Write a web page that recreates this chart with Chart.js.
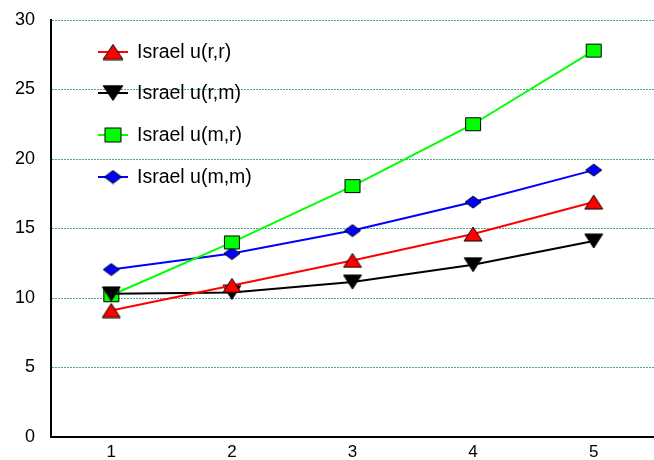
<!DOCTYPE html>
<html><head><meta charset="utf-8">
<script src="https://cdn.jsdelivr.net/npm/chart.js@4"></script>
<style>html,body{margin:0;padding:0;background:#fff}#wrap{width:654px;height:460px}</style>
</head><body><div id="wrap"><canvas id="c" width="654" height="460"></canvas></div>
<script>
const categories = ['1','2','3','4','5'];
const seriesNames = ['Israel u(r,r)','Israel u(r,m)','Israel u(m,r)','Israel u(m,m)'];
const uRR = [9.1, 10.9, 12.7, 14.6, 16.9];
const uRM = [10.3, 10.4, 11.15, 12.4, 14.1];
const uMR = [10.2, 14.0, 18.05, 22.5, 27.8];
const uMM = [12.05, 13.2, 14.85, 16.9, 19.2];
const yTicks = [0,5,10,15,20,25,30];

function makeMarker(kind, fill, w, h){
  const c = document.createElement('canvas');
  c.width = w + 2; c.height = h + 2;
  const x = c.getContext('2d');
  x.fillStyle = fill; x.strokeStyle = '#000'; x.lineWidth = 1;
  x.beginPath();
  const L = 1, T = 1, R = w + 1, B = h + 1, cx = (w + 2) / 2, cy = (h + 2) / 2;
  if (kind === 'up'){ x.moveTo(cx, T); x.lineTo(R, B); x.lineTo(L, B); }
  else if (kind === 'down'){ x.moveTo(L, T); x.lineTo(R, T); x.lineTo(cx, B); }
  else if (kind === 'rect'){ x.rect(L + 0.5, T + 0.5, w - 1, h - 1); }
  else { x.moveTo(cx, T); x.lineTo(R, cy); x.lineTo(cx, B); x.lineTo(L, cy); }
  x.closePath(); x.fill(); x.stroke();
  return c;
}
const mk = [
  makeMarker('up', '#ff0000', 18, 14),
  makeMarker('down', '#000000', 18, 14),
  makeMarker('rect', '#00ff00', 16, 14),
  makeMarker('diamond', '#0000ff', 16, 12)
];
const legendMk = [
  makeMarker('up', '#ff0000', 20, 15),
  makeMarker('down', '#000000', 20, 15),
  makeMarker('rect', '#00ff00', 17, 15),
  makeMarker('diamond', '#0000ff', 17, 13)
];
const colors = ['#ff0000', '#000000', '#00ff00', '#0000ff'];
const values = [uRR, uRM, uMR, uMM];
const FONT = "'Liberation Sans', Arial, sans-serif";

const legendPlugin = {
  id: 'customLegend',
  afterDraw(chart){
    const ctx = chart.ctx;
    const rows = [52, 93, 135, 177];
    ctx.save();
    chart.data.datasets.forEach((ds, i) => {
      const y = rows[i];
      ctx.strokeStyle = ds.borderColor; ctx.lineWidth = 2;
      ctx.beginPath(); ctx.moveTo(98, y); ctx.lineTo(128, y); ctx.stroke();
      const img = legendMk[i];
      ctx.drawImage(img, 113 - img.width / 2, y - img.height / 2);
      ctx.fillStyle = '#000'; ctx.font = '19.5px ' + FONT;
      ctx.textBaseline = 'middle'; ctx.textAlign = 'left';
      ctx.fillText(ds.label, 137, y + 1);
    });
    ctx.restore();
  }
};

new Chart(document.getElementById('c'), {
  type: 'line',
  data: {
    labels: categories,
    datasets: values.map((v, i) => ({
      label: seriesNames[i], data: v,
      borderColor: colors[i], backgroundColor: colors[i],
      borderWidth: 2, pointStyle: mk[i], pointRadius: 8,
      tension: 0, fill: false
    }))
  },
  options: {
    responsive: false, animation: false,
    layout: { autoPadding: false, padding: { top: 20, right: 0, left: 0, bottom: 0 } },
    plugins: { legend: { display: false }, tooltip: { enabled: false } },
    scales: {
      x: {
        offset: true,
        grid: { display: false, drawTicks: false },
        border: { display: true, color: '#000', width: 2 },
        ticks: { color: '#000', font: { size: 17, family: FONT }, padding: 5 },
        afterFit(s){ s.height = 23; s.paddingLeft = 0; s.paddingRight = 0; }
      },
      y: {
        min: 0, max: 30,
        afterBuildTicks(s){ s.ticks = yTicks.map(v => ({ value: v })); },
        grid: { drawTicks: false, color: ctx => ctx.tick && ctx.tick.value === 0 ? 'rgba(0,0,0,0)' : '#4f9f9f', lineWidth: 1 },
        border: { display: true, color: '#000', width: 2, dash: [2, 1] },
        ticks: { color: '#000', font: { size: 18, family: FONT }, padding: 16 },
        afterFit(s){ s.width = 51; s.paddingTop = 0; s.paddingBottom = 0; }
      }
    }
  },
  plugins: [legendPlugin]
});
</script>
</body></html>
